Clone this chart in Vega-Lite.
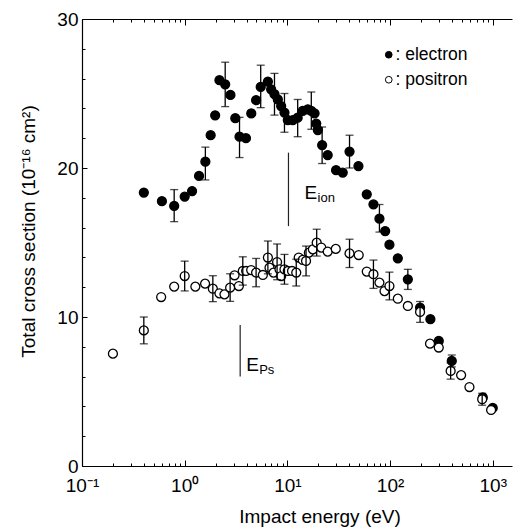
{
  "$schema": "https://vega.github.io/schema/vega-lite/v6.json",
  "width": 430,
  "height": 447,
  "autosize": {"type": "none"},
  "padding": {"left": 82, "top": 19, "right": 1, "bottom": 61},
  "background": "white",
  "resolve": {"axis": {"x": "independent", "y": "independent"}},
  "config": {
    "view": {"stroke": null},
    "font": "Liberation Sans",
    "axis": {
      "domainColor": "black", "domainWidth": 1.2, "tickColor": "black", "tickWidth": 1,
      "labelColor": "black", "labelFont": "Liberation Sans", "labelFontSize": 19,
      "titleFont": "Liberation Sans", "titleFontSize": 19, "titleFontWeight": "normal", "titleColor": "black",
      "grid": false, "labelOverlap": false, "labelBound": false, "labelFlush": false
    }
  },
  "datasets": {
    "pts": [
      {"s": "electron", "E": 0.40, "cs": 18.35},
      {"s": "electron", "E": 0.60, "cs": 17.77},
      {"s": "electron", "E": 0.79, "cs": 17.45, "lo": 16.4, "hi": 18.55},
      {"s": "electron", "E": 1.00, "cs": 18.08},
      {"s": "electron", "E": 1.18, "cs": 18.45},
      {"s": "electron", "E": 1.38, "cs": 19.47},
      {"s": "electron", "E": 1.59, "cs": 20.42, "lo": 19.2, "hi": 21.4},
      {"s": "electron", "E": 1.79, "cs": 22.2},
      {"s": "electron", "E": 1.98, "cs": 23.54},
      {"s": "electron", "E": 2.18, "cs": 25.89},
      {"s": "electron", "E": 2.48, "cs": 25.62, "lo": 24.12, "hi": 27.1},
      {"s": "electron", "E": 2.79, "cs": 24.9},
      {"s": "electron", "E": 3.11, "cs": 23.34},
      {"s": "electron", "E": 3.42, "cs": 22.1, "lo": 20.7, "hi": 23.4},
      {"s": "electron", "E": 3.95, "cs": 22.0},
      {"s": "electron", "E": 4.45, "cs": 23.66},
      {"s": "electron", "E": 4.96, "cs": 24.55},
      {"s": "electron", "E": 5.5, "cs": 25.44, "lo": 24.05, "hi": 26.9},
      {"s": "electron", "E": 6.46, "cs": 25.8},
      {"s": "electron", "E": 6.95, "cs": 25.28},
      {"s": "electron", "E": 7.49, "cs": 24.95, "lo": 23.55, "hi": 26.35},
      {"s": "electron", "E": 8.07, "cs": 24.6},
      {"s": "electron", "E": 8.7, "cs": 24.16},
      {"s": "electron", "E": 9.37, "cs": 23.72, "lo": 22.4, "hi": 25.0},
      {"s": "electron", "E": 10.1, "cs": 23.22},
      {"s": "electron", "E": 11.3, "cs": 23.22},
      {"s": "electron", "E": 12.6, "cs": 23.38, "lo": 22.1, "hi": 24.6},
      {"s": "electron", "E": 14.1, "cs": 23.83},
      {"s": "electron", "E": 15.8, "cs": 23.94},
      {"s": "electron", "E": 17.1, "cs": 23.83, "lo": 22.6, "hi": 25.1},
      {"s": "electron", "E": 18.4, "cs": 23.67},
      {"s": "electron", "E": 19.1, "cs": 22.98},
      {"s": "electron", "E": 19.8, "cs": 22.55},
      {"s": "electron", "E": 21.8, "cs": 21.54, "lo": 20.3, "hi": 22.75},
      {"s": "electron", "E": 24.7, "cs": 20.87},
      {"s": "electron", "E": 29.8, "cs": 19.85},
      {"s": "electron", "E": 34.6, "cs": 19.69},
      {"s": "electron", "E": 40.3, "cs": 21.1, "lo": 20.0, "hi": 22.2},
      {"s": "electron", "E": 49.2, "cs": 20.13},
      {"s": "electron", "E": 59.3, "cs": 18.23},
      {"s": "electron", "E": 68.9, "cs": 17.56},
      {"s": "electron", "E": 78.8, "cs": 16.6, "lo": 15.7, "hi": 17.55},
      {"s": "electron", "E": 89.6, "cs": 15.77},
      {"s": "electron", "E": 98.6, "cs": 14.85},
      {"s": "electron", "E": 119, "cs": 13.94},
      {"s": "electron", "E": 149, "cs": 12.53, "lo": 11.85, "hi": 13.2},
      {"s": "electron", "E": 196, "cs": 10.63},
      {"s": "electron", "E": 247, "cs": 9.85},
      {"s": "electron", "E": 298, "cs": 8.39},
      {"s": "electron", "E": 399, "cs": 7.05, "lo": 6.65, "hi": 7.45},
      {"s": "electron", "E": 800, "cs": 4.6},
      {"s": "electron", "E": 1000, "cs": 3.9},
      {"s": "positron", "E": 0.2, "cs": 7.54},
      {"s": "positron", "E": 0.40, "cs": 9.1, "lo": 8.2, "hi": 10.0},
      {"s": "positron", "E": 0.59, "cs": 11.34},
      {"s": "positron", "E": 0.79, "cs": 12.04},
      {"s": "positron", "E": 1.0, "cs": 12.75, "lo": 11.75, "hi": 13.75},
      {"s": "positron", "E": 1.27, "cs": 12.04},
      {"s": "positron", "E": 1.58, "cs": 12.24},
      {"s": "positron", "E": 1.88, "cs": 11.9, "lo": 11.03, "hi": 12.77},
      {"s": "positron", "E": 2.18, "cs": 11.59},
      {"s": "positron", "E": 2.44, "cs": 11.52},
      {"s": "positron", "E": 2.77, "cs": 11.97, "lo": 11.05, "hi": 12.9},
      {"s": "positron", "E": 3.06, "cs": 12.8},
      {"s": "positron", "E": 3.37, "cs": 12.08},
      {"s": "positron", "E": 3.68, "cs": 13.09, "lo": 12.14, "hi": 14.04},
      {"s": "positron", "E": 3.97, "cs": 13.09},
      {"s": "positron", "E": 4.44, "cs": 13.15},
      {"s": "positron", "E": 4.96, "cs": 12.98, "lo": 12.03, "hi": 13.93},
      {"s": "positron", "E": 5.77, "cs": 12.82},
      {"s": "positron", "E": 6.46, "cs": 13.99, "lo": 12.9, "hi": 15.1},
      {"s": "positron", "E": 6.7, "cs": 13.31},
      {"s": "positron", "E": 7.33, "cs": 12.98},
      {"s": "positron", "E": 7.94, "cs": 13.69, "lo": 12.5, "hi": 14.9},
      {"s": "positron", "E": 8.38, "cs": 13.2},
      {"s": "positron", "E": 8.7, "cs": 12.75},
      {"s": "positron", "E": 9.37, "cs": 13.2, "lo": 12.2, "hi": 14.2},
      {"s": "positron", "E": 10.1, "cs": 13.09},
      {"s": "positron", "E": 11.1, "cs": 13.09},
      {"s": "positron", "E": 12.2, "cs": 12.98, "lo": 12.08, "hi": 13.88},
      {"s": "positron", "E": 12.9, "cs": 13.99},
      {"s": "positron", "E": 14.1, "cs": 13.83},
      {"s": "positron", "E": 15.2, "cs": 13.76, "lo": 12.76, "hi": 14.76},
      {"s": "positron", "E": 16.2, "cs": 14.32},
      {"s": "positron", "E": 17.7, "cs": 14.54},
      {"s": "positron", "E": 19.3, "cs": 14.99, "lo": 14.09, "hi": 15.89},
      {"s": "positron", "E": 21.4, "cs": 14.66},
      {"s": "positron", "E": 24.7, "cs": 14.39},
      {"s": "positron", "E": 29.6, "cs": 14.57},
      {"s": "positron", "E": 40.3, "cs": 14.27, "lo": 13.32, "hi": 15.22},
      {"s": "positron", "E": 49.5, "cs": 14.16},
      {"s": "positron", "E": 59.3, "cs": 13.05},
      {"s": "positron", "E": 68.9, "cs": 12.87, "lo": 11.92, "hi": 13.82},
      {"s": "positron", "E": 78.8, "cs": 12.31},
      {"s": "positron", "E": 88.3, "cs": 11.74},
      {"s": "positron", "E": 98.6, "cs": 12.08, "lo": 11.15, "hi": 13.01},
      {"s": "positron", "E": 119, "cs": 11.23},
      {"s": "positron", "E": 149, "cs": 10.74},
      {"s": "positron", "E": 196, "cs": 10.34, "lo": 9.64, "hi": 11.04},
      {"s": "positron", "E": 245, "cs": 8.21},
      {"s": "positron", "E": 298, "cs": 7.95},
      {"s": "positron", "E": 389, "cs": 6.38, "lo": 5.83, "hi": 6.93},
      {"s": "positron", "E": 492, "cs": 6.1},
      {"s": "positron", "E": 593, "cs": 5.3},
      {"s": "positron", "E": 789, "cs": 4.48, "lo": 4.08, "hi": 4.88},
      {"s": "positron", "E": 964, "cs": 3.76}
    ],
    "ann": [
      {"name": "ion", "E": 10.25, "y1": 16.1, "y2": 21.03, "tx": 14.7, "ty": 17.9, "main": "E", "sub": "ion"},
      {"name": "Ps", "E": 3.47, "y1": 6.0, "y2": 9.46, "tx": 3.97, "ty": 6.36, "main": "E", "sub": "Ps"}
    ]
  },
  "layer": [
    {
      "data": {"name": "pts"},
      "mark": {"type": "point", "filled": true, "shape": "circle", "size": 80, "stroke": "black", "strokeWidth": 1.3, "opacity": 1},
      "encoding": {
        "x": {
          "field": "E", "type": "quantitative",
          "scale": {"type": "log", "domain": [0.1, 1540], "nice": false},
          "axis": {
            "orient": "bottom",
            "values": [0.1, 1, 10, 100, 1000],
            "labelExpr": "datum.value==0.1?'10⁻¹':datum.value==1?'10⁰':datum.value==10?'10¹':datum.value==100?'10²':'10³'",
            "ticks": false,
            "labelPadding": 10,
            "title": "Impact energy (eV)",
            "titleX": 237.5, "titleY": 56, "titleBaseline": "alphabetic"
          }
        },
        "y": {
          "field": "cs", "type": "quantitative",
          "scale": {"domain": [0, 30], "nice": false},
          "axis": {
            "orient": "left",
            "values": [0, 10, 20, 30],
            "ticks": false,
            "labelPadding": 4,
            "title": "Total cross section (10⁻¹⁶ cm²)",
            "titleX": -48, "titleY": 212, "titleBaseline": "alphabetic"
          }
        },
        "fill": {
          "field": "s", "type": "nominal",
          "scale": {"domain": ["electron", "positron"], "range": ["black", "white"]},
          "legend": {
            "orient": "none", "legendX": 298, "legendY": 27, "title": null,
            "labelExpr": "': ' + datum.label",
            "symbolType": "circle", "symbolSize": 45, "symbolStrokeColor": "black", "symbolStrokeWidth": 1,
            "labelFont": "Liberation Sans", "labelFontSize": 17.5, "labelColor": "black", "labelOffset": -2,
            "rowPadding": 6, "padding": 0
          }
        }
      }
    },
    {
      "data": {"name": "pts"},
      "transform": [{"filter": "isValid(datum.lo)"}],
      "mark": {"type": "rule", "color": "black", "strokeWidth": 1.3},
      "encoding": {
        "x": {
          "field": "E", "type": "quantitative",
          "scale": {"type": "log", "domain": [0.1, 1540], "nice": false},
          "axis": {
            "orient": "bottom", "title": null, "labels": false, "domain": false,
            "values": [0.2,0.3,0.4,0.5,0.6,0.7,0.8,0.9,2,3,4,5,6,7,8,9,20,30,40,50,60,70,80,90,200,300,400,500,600,700,800,900],
            "offset": -3, "tickSize": 3
          }
        },
        "y": {
          "field": "lo", "type": "quantitative",
          "scale": {"domain": [0, 30], "nice": false},
          "axis": {
            "orient": "left", "title": null, "labels": false, "domain": false,
            "values": [2,4,6,8,12,14,16,18,22,24,26,28],
            "offset": -3, "tickSize": 3
          }
        },
        "y2": {"field": "hi"}
      }
    },
    {
      "data": {"name": "pts"},
      "transform": [{"filter": "isValid(datum.lo)"}],
      "mark": {"type": "tick", "orient": "horizontal", "color": "black", "size": 8, "thickness": 1.3},
      "encoding": {
        "x": {
          "field": "E", "type": "quantitative",
          "scale": {"type": "log", "domain": [0.1, 1540], "nice": false},
          "axis": {
            "orient": "bottom", "title": null, "labels": false, "domain": false,
            "values": [0.1, 1, 10, 100, 1000],
            "offset": -6, "tickSize": 6
          }
        },
        "y": {
          "field": "lo", "type": "quantitative",
          "scale": {"domain": [0, 30], "nice": false},
          "axis": {
            "orient": "left", "title": null, "labels": false, "domain": false,
            "values": [0, 10, 20, 30],
            "offset": -5, "tickSize": 5
          }
        }
      }
    },
    {
      "data": {"name": "pts"},
      "transform": [{"filter": "isValid(datum.lo)"}],
      "mark": {"type": "tick", "orient": "horizontal", "color": "black", "size": 8, "thickness": 1.3},
      "encoding": {
        "x": {"field": "E", "type": "quantitative", "scale": {"type": "log", "domain": [0.1, 1540], "nice": false}, "axis": null},
        "y": {"field": "hi", "type": "quantitative", "scale": {"domain": [0, 30], "nice": false}, "axis": null}
      }
    },
    {
      "data": {"name": "ann"},
      "mark": {"type": "rule", "color": "#222", "strokeWidth": 1.2},
      "encoding": {
        "x": {
          "field": "E", "type": "quantitative",
          "scale": {"type": "log", "domain": [0.1, 1540], "nice": false},
          "axis": {
            "orient": "top", "title": null, "labels": false,
            "values": [0.1, 1, 10, 100, 1000],
            "ticks": false
          }
        },
        "y": {"field": "y1", "type": "quantitative", "scale": {"domain": [0, 30], "nice": false}, "axis": null},
        "y2": {"field": "y2"}
      }
    },
    {
      "data": {"name": "ann"},
      "mark": {"type": "text", "align": "left", "baseline": "alphabetic", "fontSize": 19, "font": "Liberation Sans", "color": "black"},
      "encoding": {
        "x": {
          "field": "tx", "type": "quantitative",
          "scale": {"type": "log", "domain": [0.1, 1540], "nice": false},
          "axis": {
            "orient": "top", "title": null, "labels": false, "domain": false,
            "values": [0.1, 1, 10, 100, 1000],
            "offset": -6, "tickSize": 6
          }
        },
        "y": {"field": "ty", "type": "quantitative", "scale": {"domain": [0, 30], "nice": false}, "axis": null},
        "text": {"field": "main"}
      }
    },
    {
      "data": {"name": "ann"},
      "mark": {"type": "text", "align": "left", "baseline": "alphabetic", "fontSize": 13, "font": "Liberation Sans", "color": "black", "dx": 13, "dy": 3},
      "encoding": {
        "x": {
          "field": "tx", "type": "quantitative",
          "scale": {"type": "log", "domain": [0.1, 1540], "nice": false},
          "axis": {
            "orient": "top", "title": null, "labels": false, "domain": false,
            "values": [0.2,0.3,0.4,0.5,0.6,0.7,0.8,0.9,2,3,4,5,6,7,8,9,20,30,40,50,60,70,80,90,200,300,400,500,600,700,800,900],
            "offset": -3, "tickSize": 3
          }
        },
        "y": {"field": "ty", "type": "quantitative", "scale": {"domain": [0, 30], "nice": false}, "axis": null},
        "text": {"field": "sub"}
      }
    }
  ]
}
